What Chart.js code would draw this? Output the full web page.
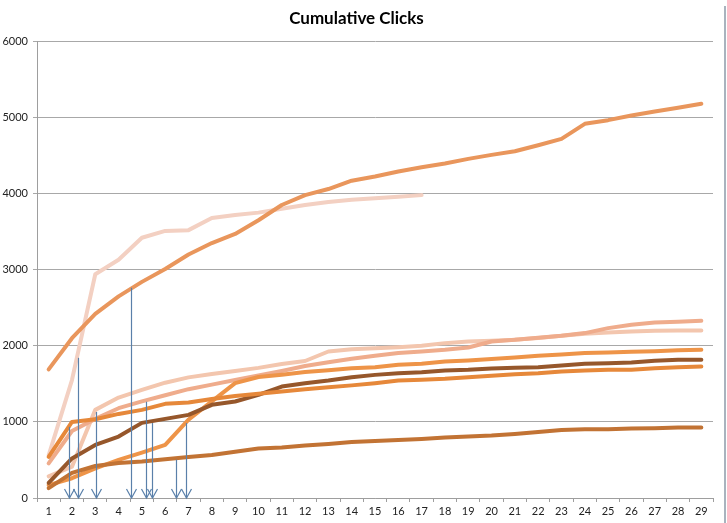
<!DOCTYPE html>
<html>
<head>
<meta charset="utf-8">
<script src="https://cdn.jsdelivr.net/npm/chart.js@4/dist/chart.umd.min.js"></script>
<style>
  html, body { margin: 0; padding: 0; background: #ffffff; }
  #wrap { width: 727px; height: 523px; position: relative; }
  canvas { display: block; }
</style>
</head>
<body>
<div id="wrap"><canvas id="c" width="727" height="523"></canvas></div>
<script>
const categories = ['1','2','3','4','5','6','7','8','9','10','11','12','13','14','15','16','17','18','19','20','21','22','23','24','25','26','27','28','29'];
const yTicks = [0, 1000, 2000, 3000, 4000, 5000, 6000];

const seriesA = [1690,2100,2420,2650,2840,3010,3200,3350,3470,3650,3850,3980,4060,4170,4224,4290,4346,4395,4456,4509,4557,4636,4720,4917,4965,5026,5079,5128,5180];
const seriesB = [560,1550,2940,3130,3420,3510,3520,3680,3720,3750,3800,3850,3890,3920,3940,3960,3980];
const seriesC = [456,880,1040,1180,1270,1350,1430,1490,1550,1610,1670,1735,1785,1830,1868,1904,1925,1947,1978,2057,2079,2105,2132,2167,2232,2276,2307,2316,2329];
const seriesD = [285,412,1158,1320,1420,1515,1585,1630,1670,1710,1760,1800,1925,1956,1969,1982,2000,2035,2057,2066,2079,2101,2132,2158,2175,2189,2197,2202,2202];
const seriesE = [170,260,390,500,596,697,1030,1270,1510,1590,1620,1655,1680,1705,1719,1750,1763,1794,1807,1825,1846,1868,1886,1904,1912,1921,1930,1943,1947];
const seriesF = [200,520,697,807,987,1040,1092,1224,1268,1355,1465,1509,1544,1588,1618,1640,1653,1675,1684,1702,1711,1719,1741,1763,1772,1781,1803,1816,1816];
const seriesG = [540,1000,1035,1105,1158,1237,1255,1300,1340,1370,1400,1430,1455,1480,1509,1544,1553,1566,1588,1605,1627,1640,1662,1675,1684,1684,1706,1719,1728];
const seriesH = [130,330,420,460,480,510,540,566,609,650,665,690,710,735,750,763,776,794,807,820,842,868,895,904,904,912,917,925,927];

// annotation arrows: position along category axis (1-based) and value where the arrow starts
const arrowCats = [1.87, 2.28, 3.05, 4.52, 5.16, 5.42, 6.48, 6.91];
const arrowTops = [935, 1842, 1130, 2763, 1265, 985, 505, 985];

const colors = {
  A: '#E9965C', B: '#F3D0C2', C: '#EFAC8C', D: '#F3C6AE',
  E: '#EE9448', F: '#96572B', G: '#E6883A', H: '#C27334'
};

function ds(label, data, color) {
  return {
    label, data, borderColor: color, backgroundColor: color,
    borderWidth: 4, pointRadius: 0, tension: 0, fill: false,
    borderCapStyle: 'round', borderJoinStyle: 'round'
  };
}

const arrowPlugin = {
  id: 'arrows',
  afterDatasetsDraw(chart) {
    const ctx = chart.ctx;
    const xs = chart.scales.x, ys = chart.scales.y;
    ctx.save();
    ctx.strokeStyle = '#5A80AA';
    ctx.lineWidth = 1.2;
    const yb = ys.getPixelForValue(0);
    arrowCats.forEach((c, i) => {
      const x = Math.round(xs.getPixelForValue(c - 1)) + 0.5;
      const yt = ys.getPixelForValue(arrowTops[i]);
      ctx.beginPath();
      ctx.moveTo(x, yt);
      ctx.lineTo(x, yb);
      ctx.stroke();
      ctx.beginPath();
      ctx.moveTo(x - 5, yb - 9);
      ctx.lineTo(x, yb);
      ctx.lineTo(x + 5, yb - 9);
      ctx.stroke();
    });
    ctx.restore();
  },
  afterDraw(chart) {
    const ctx = chart.ctx;
    ctx.save();
    ctx.strokeStyle = '#A9B3BE';
    ctx.lineWidth = 2;
    ctx.beginPath();
    ctx.moveTo(chart.width - 2, 6);
    ctx.lineTo(chart.width - 2, chart.height);
    ctx.stroke();
    ctx.restore();
  }
};

new Chart(document.getElementById('c'), {
  type: 'line',
  data: {
    labels: categories,
    datasets: [
      ds('H', seriesH, colors.H),
      ds('G', seriesG, colors.G),
      ds('F', seriesF, colors.F),
      ds('E', seriesE, colors.E),
      ds('C', seriesC, colors.C),
      ds('D', seriesD, colors.D),
      ds('A', seriesA, colors.A),
      ds('B', seriesB, colors.B)
    ]
  },
  options: {
    responsive: false,
    animation: false,
    events: [],
    layout: { padding: { left: 0, right: 14, top: 0, bottom: 0 } },
    plugins: {
      legend: { display: false },
      tooltip: { enabled: false },
      title: {
        display: true,
        text: 'Cumulative Clicks',
        color: '#000000',
        font: { family: 'Lato', size: 17, weight: 'bold' },
        padding: { top: 8, bottom: 13 }
      }
    },
    scales: {
      x: {
        type: 'category',
        offset: true,
        grid: { display: true, drawOnChartArea: false, drawTicks: true, tickLength: 4, offset: true, color: '#9E9E9E' },
        border: { display: true, color: '#9E9E9E', width: 1 },
        ticks: { color: '#222222', font: { family: 'Lato', size: 11 }, padding: 3, maxRotation: 0, autoSkip: false },
        afterFit(scale) { scale.height = 25; }
      },
      y: {
        min: yTicks[0],
        max: yTicks[yTicks.length - 1],
        afterBuildTicks(scale) { scale.ticks = yTicks.map(v => ({ value: v })); },
        grid: { color: '#A8A8A8', lineWidth: 1, tickLength: 4, drawTicks: true },
        border: { display: true, color: '#9E9E9E', width: 1 },
        ticks: { color: '#222222', font: { family: 'Lato', size: 11 }, padding: 5, callback: (v) => String(v) },
        afterFit(scale) { scale.width = 37; }
      }
    }
  },
  plugins: [arrowPlugin]
});
</script>
</body>
</html>
